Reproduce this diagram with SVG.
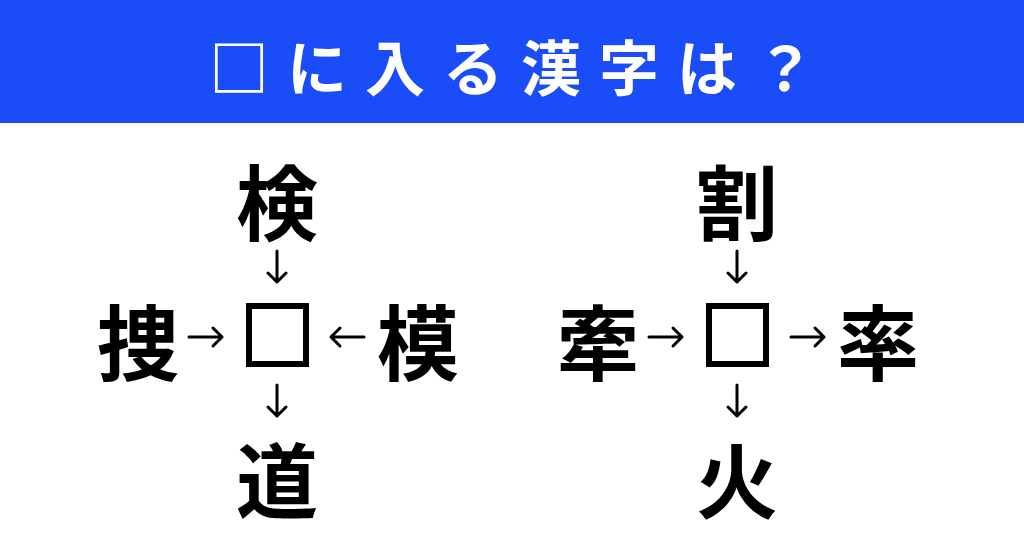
<svg xmlns="http://www.w3.org/2000/svg" width="1024" height="538" viewBox="0 0 1024 538">
<defs>
<style>
.k{font-family:"Noto Sans CJK JP",sans-serif;font-weight:bold;font-size:82px;fill:#000;text-anchor:middle;dominant-baseline:central}
.a{fill:none;stroke:#000;stroke-width:3;stroke-linecap:round;stroke-linejoin:round}
.b{fill:none;stroke:#000;stroke-width:6}
</style>
</defs>
<rect width="1024" height="538" fill="#fff"/>
<rect width="1024" height="123" fill="#1a4cf7"/>
<text x="521" y="64" font-family="Noto Sans CJK JP,sans-serif" font-weight="bold" font-size="60" fill="#fff" text-anchor="middle" dominant-baseline="central" letter-spacing="18">□に入る漢字は？</text>
<g id="L-top"><text class="k" x="277" y="198">検</text></g>
<g id="L-left"><text class="k" x="138" y="338">捜</text></g>
<g id="L-box"><rect class="b" x="249" y="306" width="57" height="58"/></g>
<g id="L-right"><text class="k" x="418" y="338">模</text></g>
<g id="L-bottom"><text class="k" x="277" y="476">道</text></g>
<g id="R-top"><text class="k" x="737" y="198">割</text></g>
<g id="R-left"><text class="k" x="598" y="338">牽</text></g>
<g id="R-box"><rect class="b" x="709" y="306" width="57" height="58"/></g>
<g id="R-right"><text class="k" x="878" y="338">率</text></g>
<g id="R-bottom"><text class="k" x="737" y="476">火</text></g>
<g id="connectors">
<path class="a" d="M277 251V282M268 273L277 282L286 273"/>
<path class="a" d="M189 337H222M213 328L222 337L213 346"/>
<path class="a" d="M364 337H331M340 328L331 337L340 346"/>
<path class="a" d="M277 385V416M268 407L277 416L286 407"/>
<path class="a" d="M737 251V282M728 273L737 282L746 273"/>
<path class="a" d="M649 337H682M673 328L682 337L673 346"/>
<path class="a" d="M791 337H824M815 328L824 337L815 346"/>
<path class="a" d="M737 385V416M728 407L737 416L746 407"/>
</g>
</svg>
